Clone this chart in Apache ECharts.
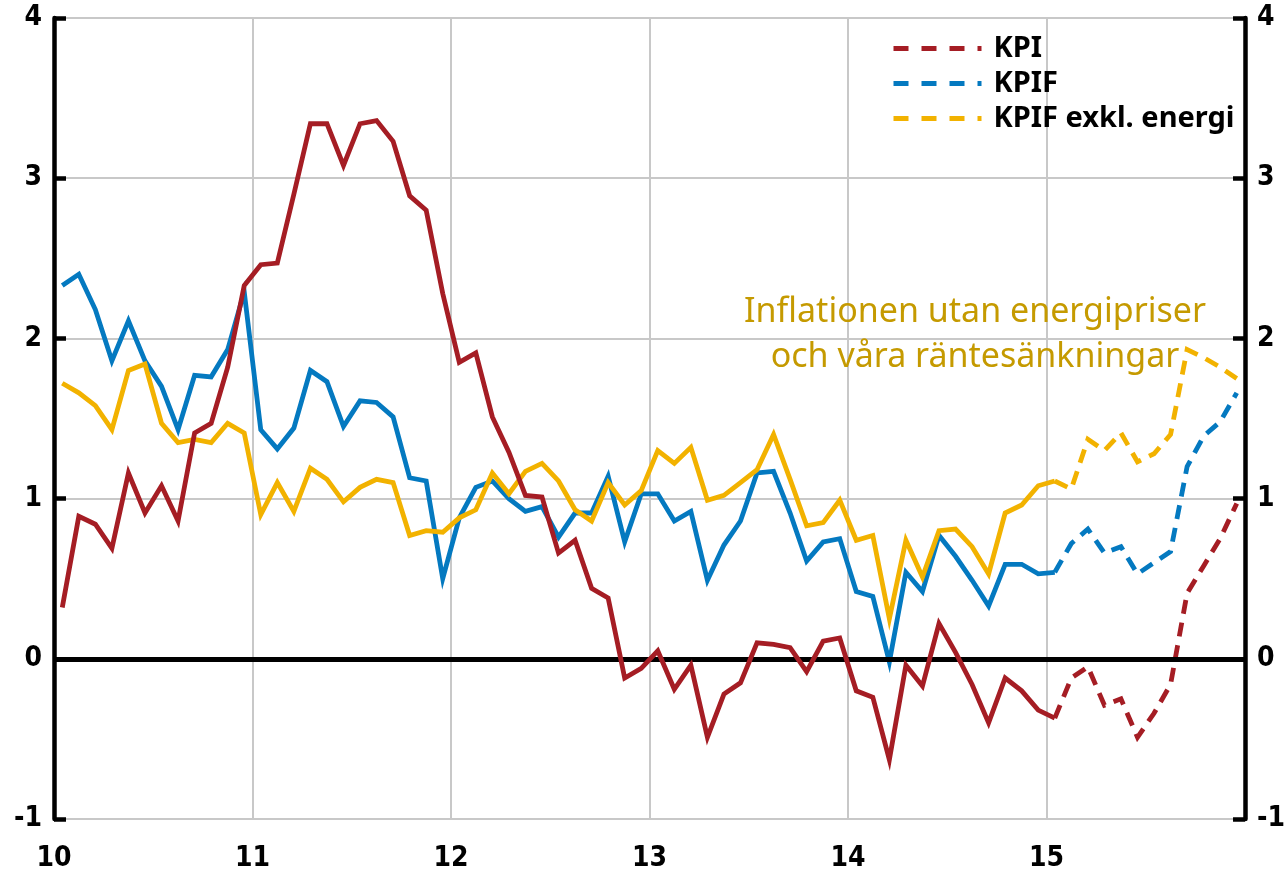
<!DOCTYPE html>
<html>
<head>
<meta charset="utf-8">
<script src="https://cdn.jsdelivr.net/npm/echarts@6/dist/echarts.min.js"></script>
<style>
  html, body { margin: 0; padding: 0; background: #fff; }
  #chart { width: 1288px; height: 873px; }
</style>
</head>
<body>
<div id="chart"></div>
<script>
// månader jan 2010 - dec 2015
var months = [];
for (var y = 2010; y <= 2015; y++) {
    for (var m = 1; m <= 12; m++) {
        months.push(y + '-' + (m < 10 ? '0' + m : m));
    }
}
var yearLabels = ['10', '11', '12', '13', '14', '15'];
// sista utfallet (jan 2015), därefter prognos (streckat)
var lastOutcome = 60;

var kpi = [
    0.32, 0.89, 0.84, 0.69, 1.16, 0.91, 1.08, 0.86, 1.41, 1.47, 1.82, 2.33,
    2.46, 2.47, 2.90, 3.34, 3.34, 3.08, 3.34, 3.36, 3.23, 2.89, 2.80, 2.28,
    1.85, 1.91, 1.51, 1.29, 1.02, 1.01, 0.66, 0.74, 0.44, 0.38, -0.12, -0.06,
    0.05, -0.19, -0.04, -0.49, -0.22, -0.15, 0.10, 0.09, 0.07, -0.08, 0.11, 0.13,
    -0.20, -0.24, -0.63, -0.04, -0.17, 0.22, 0.04, -0.16, -0.40, -0.12, -0.20, -0.32,
    -0.37, -0.12, -0.05, -0.29, -0.25, -0.49, -0.34, -0.16, 0.41, 0.58, 0.75, 0.97
];
var kpif = [
    2.33, 2.40, 2.18, 1.86, 2.11, 1.86, 1.70, 1.43, 1.77, 1.76, 1.93, 2.29,
    1.43, 1.31, 1.44, 1.80, 1.73, 1.45, 1.61, 1.60, 1.51, 1.13, 1.11, 0.50,
    0.88, 1.07, 1.11, 1.00, 0.92, 0.95, 0.76, 0.91, 0.91, 1.14, 0.73, 1.03,
    1.03, 0.86, 0.92, 0.49, 0.71, 0.86, 1.16, 1.17, 0.91, 0.61, 0.73, 0.75,
    0.42, 0.39, -0.02, 0.54, 0.42, 0.77, 0.64, 0.49, 0.33, 0.59, 0.59, 0.53,
    0.54, 0.72, 0.81, 0.66, 0.70, 0.53, 0.60, 0.67, 1.20, 1.39, 1.48, 1.66
];
var kpifExEnergy = [
    1.72, 1.66, 1.58, 1.43, 1.80, 1.84, 1.47, 1.35, 1.37, 1.35, 1.47, 1.41,
    0.90, 1.10, 0.92, 1.19, 1.12, 0.98, 1.07, 1.12, 1.10, 0.77, 0.80, 0.79,
    0.88, 0.93, 1.16, 1.03, 1.17, 1.22, 1.11, 0.93, 0.86, 1.10, 0.96, 1.05,
    1.30, 1.22, 1.32, 0.99, 1.02, 1.10, 1.18, 1.40, 1.12, 0.83, 0.85, 0.99,
    0.74, 0.77, 0.25, 0.74, 0.51, 0.80, 0.81, 0.70, 0.53, 0.91, 0.96, 1.08,
    1.11, 1.06, 1.37, 1.30, 1.41, 1.23, 1.28, 1.40, 1.93, 1.88, 1.82, 1.75
];

const red = '#a51d24';
const blue = '#0479c0';
const gold = '#f2b200';

function outcome(arr) {
    return arr.map(function (v, i) { return i <= lastOutcome ? v : '-'; });
}
function forecast(arr) {
    return arr.map(function (v, i) { return i >= lastOutcome ? v : '-'; });
}

var labelFont = "'Liberation Sans Narrow', 'DejaVu Sans Condensed', 'Roboto', sans-serif";

function lineSeries(name, data, color, dashed, z) {
    return {
        name: name,
        type: 'line',
        xAxisIndex: 1,
        data: data,
        symbol: 'none',
        z: z,
        lineStyle: {
            color: color,
            width: 4.8,
            type: dashed ? [14, 9] : 'solid',
            join: 'miter',
            cap: 'butt'
        },
        itemStyle: { color: color }
    };
}

var chart = echarts.init(document.getElementById('chart'));

var option = {
    animation: false,
    backgroundColor: '#fff',
    grid: { left: 54, right: 41, top: 18, bottom: 53 },
    legend: {
        orient: 'vertical',
        left: 886,
        top: 29,
        itemWidth: 88,
        itemHeight: 20,
        itemGap: 6,
        data: ['KPI', 'KPIF', 'KPIF exkl. energi'],
        itemStyle: { opacity: 0 },
        lineStyle: { width: 5, type: [15, 13] },
        textStyle: {
            fontFamily: "'Noto Sans', 'Open Sans', sans-serif",
            fontWeight: 'bold',
            fontSize: 29,
            color: '#000',
            padding: [0, 0, 0, 7]
        }
    },
    xAxis: [{
        type: 'value',
        min: 0,
        max: 6,
        interval: 1,
        axisLine: { show: false },
        axisTick: { show: false },
        splitLine: { show: true, lineStyle: { color: '#c8c8c8', width: 2 } },
        axisLabel: {
            margin: 26,
            fontFamily: labelFont,
            fontWeight: 'bold',
            fontSize: 28,
            color: '#000',
            formatter: function (v) { return yearLabels[v] || ''; }
        }
    }, {
        type: 'category',
        data: months,
        boundaryGap: true,
        show: false
    }],
    yAxis: [{
        type: 'value',
        position: 'left',
        min: -1,
        max: 4,
        interval: 1,
        axisLine: { show: true, lineStyle: { color: '#000', width: 4.5 } },
        axisTick: { show: true, inside: true, length: 12, lineStyle: { color: '#000', width: 4.5 } },
        splitLine: { show: true, lineStyle: { color: '#c8c8c8', width: 2 } },
        axisLabel: {
            margin: 12,
            fontFamily: labelFont,
            fontWeight: 'bold',
            fontSize: 28,
            color: '#000'
        }
    }, {
        type: 'value',
        position: 'right',
        min: -1,
        max: 4,
        interval: 1,
        axisLine: { show: true, lineStyle: { color: '#000', width: 4.5 } },
        axisTick: { show: true, inside: true, length: 12, lineStyle: { color: '#000', width: 4.5 } },
        splitLine: { show: false },
        axisLabel: {
            margin: 12,
            fontFamily: labelFont,
            fontWeight: 'bold',
            fontSize: 28,
            color: '#000'
        }
    }],
    graphic: [{
        type: 'text',
        x: 975,
        y: 290,
        style: {
            text: 'Inflationen utan energipriser\noch våra räntesänkningar',
            align: 'center',
            verticalAlign: 'top',
            fill: '#c59a00',
            font: "34px 'Noto Sans', 'Open Sans', sans-serif",
            lineHeight: 45
        },
        z: 10
    }],
    series: [
        lineSeries('KPIF utfall', outcome(kpif), blue, false, 3),
        lineSeries('KPIF exkl. energi utfall', outcome(kpifExEnergy), gold, false, 4),
        lineSeries('KPI utfall', outcome(kpi), red, false, 5),
        lineSeries('KPI', forecast(kpi), red, true, 2),
        lineSeries('KPIF', forecast(kpif), blue, true, 2),
        lineSeries('KPIF exkl. energi', forecast(kpifExEnergy), gold, true, 2),
        {
            type: 'line',
            xAxisIndex: 1,
            data: [],
            z: 1,
            markLine: {
                silent: true,
                symbol: 'none',
                label: { show: false },
                lineStyle: { color: '#000', width: 5, type: 'solid' },
                data: [{ yAxis: 0 }]
            }
        }
    ]
};

chart.setOption(option);
</script>
</body>
</html>
